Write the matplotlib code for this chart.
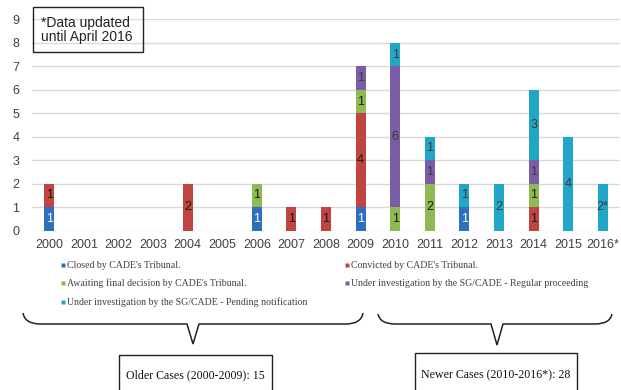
import numpy as np
import matplotlib.pyplot as plt
from matplotlib.path import Path
from matplotlib.patches import PathPatch, Rectangle

# Cartel cases by year and current status
years = ["2000", "2001", "2002", "2003", "2004", "2005", "2006", "2007", "2008",
         "2009", "2010", "2011", "2012", "2013", "2014", "2015", "2016*"]
closed = [1, 0, 0, 0, 0, 0, 1, 0, 0, 1, 0, 0, 1, 0, 0, 0, 0]
convicted = [1, 0, 0, 0, 2, 0, 0, 1, 1, 4, 0, 0, 0, 0, 1, 0, 0]
awaiting = [0, 0, 0, 0, 0, 0, 1, 0, 0, 1, 1, 2, 0, 0, 1, 0, 0]
regular = [0, 0, 0, 0, 0, 0, 0, 0, 0, 1, 6, 1, 0, 0, 1, 0, 0]
pending = [0, 0, 0, 0, 0, 0, 0, 0, 0, 0, 1, 1, 1, 2, 3, 4, 2]

series_names = [
    "Closed by CADE's Tribunal.",
    "Convicted by CADE's Tribunal.",
    "Awaiting final decision by CADE's Tribunal.",
    "Under investigation by the SG/CADE - Regular proceeding",
    "Under investigation by the SG/CADE - Pending notification",
]
series = [closed, convicted, awaiting, regular, pending]
colors = ["#2f6fc0", "#c0443f", "#8dbb52", "#7b5ca6", "#22a6c8"]
label_colors = ["white", "#1a1a1a", "#1a1a1a", "#3a3a3a", "#3a3a3a"]

older_label = "Older Cases (2000-2009): {}"
newer_label = "Newer Cases (2010-2016*): {}"

W, H = 621, 390
fig = plt.figure(figsize=(W / 100, H / 100), dpi=100)
ax = fig.add_axes([32 / W, 1 - 230.7 / H, (620 - 32) / W, (230.7 - 19.3) / H])

x = np.arange(len(years))
bottom = np.zeros(len(years))
for vals, name, col, tcol in zip(series, series_names, colors, label_colors):
    vals = np.array(vals)
    bars = ax.bar(x, vals, width=0.29, bottom=bottom, color=col, label=name, zorder=2)
    labels = []
    for yr, v in zip(years, vals):
        if v == 0:
            labels.append("")
        elif yr.endswith("*"):
            labels.append(f"{v}*")
        else:
            labels.append(str(v))
    ax.bar_label(bars, labels=labels, label_type="center", color=tcol,
                 fontsize=9, family="Liberation Sans")
    bottom += vals

ax.set_xlim(-0.5, 16.5)
ax.set_ylim(0, 9)
ax.set_yticks(range(10))
ax.set_xticks(x)
ax.set_xticklabels(years)
ax.grid(axis="y", color="#d9d9d9", lw=1, zorder=0)
for s in ax.spines.values():
    s.set_visible(False)
ax.tick_params(length=0, labelsize=9, labelcolor="#404040")
ax.tick_params(axis="y", pad=9)
ax.tick_params(axis="x", pad=6)
for lab in ax.get_xticklabels() + ax.get_yticklabels():
    lab.set_family("Liberation Sans")

# note box in the top-left corner
fig.text(41 / W, 1 - 30 / H, "*Data updated\nuntil April 2016", fontsize=10,
         family="Liberation Sans", color="#222222", va="center", ha="left",
         linespacing=1.05)

# overlay in pixel coordinates for the legend, braces and totals
ov = fig.add_axes([0, 0, 1, 1])
ov.set_xlim(0, W)
ov.set_ylim(H, 0)
ov.axis("off")

ov.add_patch(Rectangle((33, 7), 110, 45, fill=False, ec="#222222", lw=1))

serif = "Liberation Serif"
for i, (name, col) in enumerate(zip(series_names, colors)):
    cx = [63, 347][i % 2]
    cy = [265, 283, 302][i // 2]
    ov.plot(cx, cy, marker="s", ms=3, color=col, mec="none")
    ov.text(cx + 4, cy, name, fontsize=7.1, family=serif, color="#404040",
            va="center", ha="left")


def brace(x0, x1, tip, y_top, y_mid, y_tip):
    verts = [(x0, y_top), (x0 + 2, y_mid), (x0 + 17, y_mid),
             (tip - 6, y_mid), (tip, y_tip), (tip + 6, y_mid),
             (x1 - 17, y_mid), (x1 - 2, y_mid), (x1, y_top)]
    codes = [Path.MOVETO, Path.CURVE3, Path.CURVE3,
             Path.LINETO, Path.LINETO, Path.LINETO,
             Path.LINETO, Path.CURVE3, Path.CURVE3]
    ov.add_patch(PathPatch(Path(verts, codes), fill=False, ec="#222222", lw=1.1))


brace(23, 363, 193, 313, 324, 344)
brace(378, 612, 497, 314, 324, 345)

older_total = int(sum(sum(s[:10]) for s in series))
newer_total = int(sum(sum(s[10:]) for s in series))

ov.add_patch(Rectangle((119, 355), 153, 45, fill=False, ec="#222222", lw=1))
ov.add_patch(Rectangle((415, 353), 162, 47, fill=False, ec="#222222", lw=1))
ov.text(195.5, 375, older_label.format(older_total), fontsize=8.6, family=serif,
        color="#111111", ha="center", va="center")
ov.text(496, 375, newer_label.format(newer_total), fontsize=8.6, family=serif,
        color="#111111", ha="center", va="center")

fig.savefig("out.png", dpi=100)
